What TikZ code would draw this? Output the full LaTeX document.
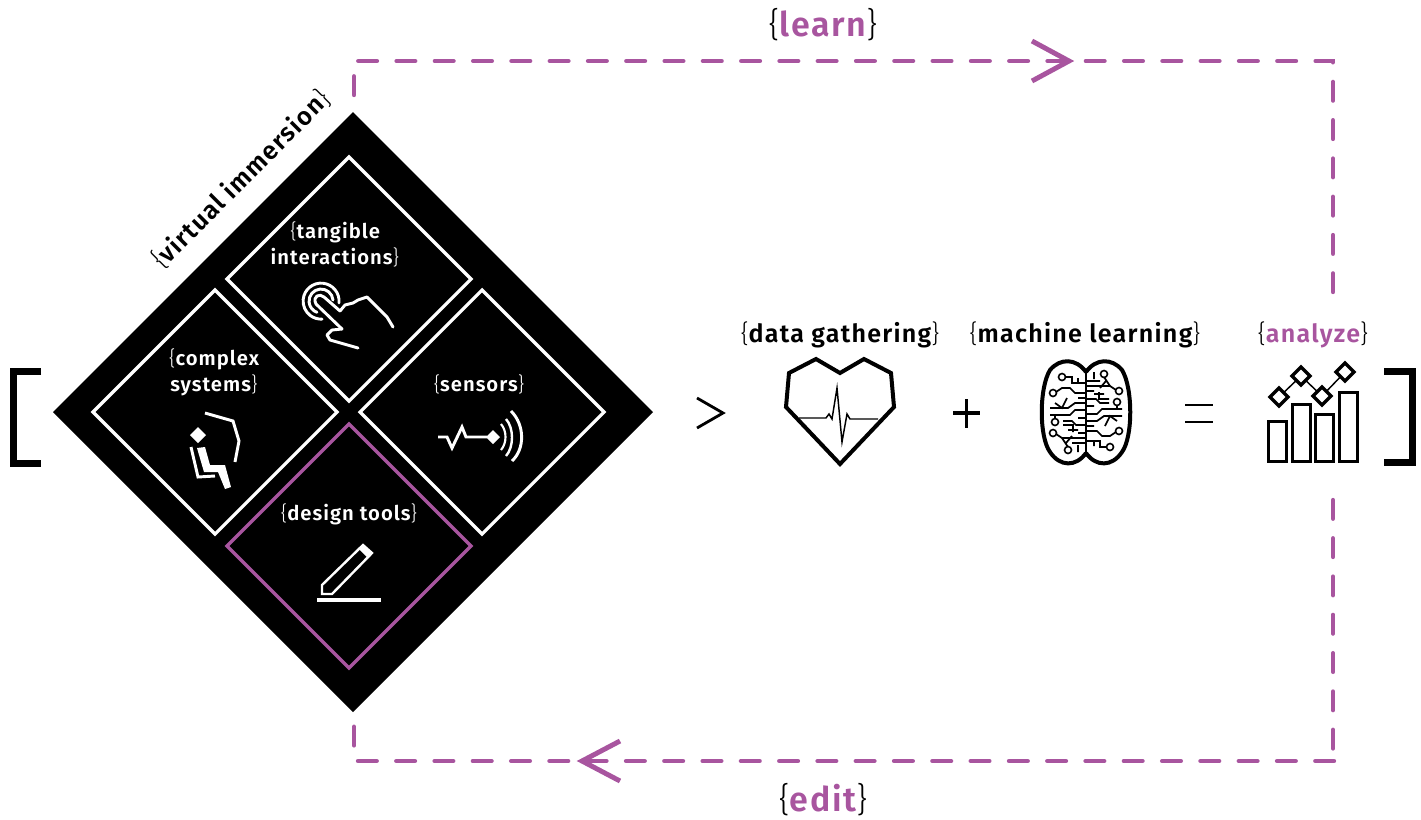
\documentclass[tikz,border=0pt]{standalone}
\usepackage{fontspec}
\setmainfont{Fira Sans}
\definecolor{plum}{HTML}{A8559F}
\newfontfamily\lightf{Fira Sans Light}
\newfontfamily\medf[LetterSpace=5]{Fira Sans SemiBold}
\newcommand{\ob}{{\lightf\{}}
\newcommand{\cb}{{\lightf\}}}
\newcommand{\md}[1]{{\medf #1}}
\newcommand{\brainhalf}{%
 \draw[line width=1.3pt]
 (1065,377) -- (1072,377) -- (1072,383) -- (1085,383) (1078,378) -- (1078,383)
 (1056,392) -- (1062,388) -- (1070,388) -- (1075,393) -- (1085,393)
 (1078,398) -- (1085,398)
 (1055,403) -- (1062,408) -- (1067,398) (1050,408) -- (1068,408) -- (1075,403) -- (1085,403)
 (1050,415) -- (1070,415) -- (1075,410) -- (1085,410)
 (1055,415) -- (1055,419)
 (1063,421) -- (1072,421) -- (1076,425) -- (1085,425)
 (1063,425) -- (1073,425) -- (1073,432) (1068,430) -- (1078,430)
 (1078,418) -- (1085,418) (1078,433) -- (1085,433)
 (1056,434) -- (1062,438) -- (1085,438) (1062,438) -- (1068,447)
 (1072,436) -- (1066,443)
 (1072,443) -- (1085,443) (1078,445) -- (1078,452);
 \draw[line width=1.2pt,fill=white]
 (1062,377) circle (3.5) (1053,393) circle (3.5) (1055,422) circle (3.5) (1053,433) circle (3.5) (1068,450) circle (3.5);
}
\begin{document}
\begin{tikzpicture}[x=0.75pt,y=-0.75pt,line join=miter,
 flow/.style={draw=plum,line width=3.3pt,line cap=round,dash pattern=on 14pt off 14.72pt},
 head/.style={draw=plum,line width=3.7pt},
 cell/.style={draw=white,line width=2.4pt},
 ic/.style={draw=white,line width=2.2pt},
 tw/.style={text=white,align=center,font=\fontsize{15.2}{19.5}\selectfont,inner sep=0pt},
 tb/.style={text=black,align=center,font=\fontsize{18.8}{20}\selectfont,inner sep=0pt},
 tc/.style={align=center,font=\fontsize{25.5}{26}\selectfont,inner sep=0pt}]
\useasboundingbox (0,0) rectangle (1421,819);
% main diamond
\fill[black] (353,112) -- (653,412) -- (353,712) -- (53,412) -- cycle;
\draw[cell] (349,157) -- (471,279) -- (349,401) -- (227,279) -- cycle;
\draw[cell] (215,290) -- (337,412) -- (215,534) -- (93,412) -- cycle;
\draw[cell] (482,290) -- (604,412) -- (482,534) -- (360,412) -- cycle;
\draw[plum,line width=2.6pt] (349,424) -- (471,546) -- (349,668) -- (227,546) -- cycle;
% flow loop
\coordinate (tl) at (354,95);
\coordinate (tlc) at (354,61);
\coordinate (trc) at (1333,61);
\coordinate (tr) at (1333,292);
\coordinate (br) at (1333,500);
\coordinate (brv) at (1333,752);
\coordinate (brc) at (1334,761);
\coordinate (blc) at (354,761);
\coordinate (bl) at (354,726);
\draw[flow] (tl) -- (tlc) -- (trc) -- (tr);
\draw[flow] (br) -- (brv);
\draw[flow] (brc) -- (blc) -- (bl);
\draw[head] (1032,41) -- (1069,61) -- (1032,81);
\draw[head] (620,741) -- (582,761) -- (620,781);
% titles
\node[tc] (learn) at (823,25) {\ob\textcolor{plum}{\md{learn}}\cb};
\node[tc] (edit) at (823,800) {\ob\textcolor{plum}{\md{edit}}\cb};
\node[rotate=45,font=\fontsize{19}{22}\selectfont,inner sep=0pt] (vi) at (241,179) {\ob\md{virtual immersion}\cb};
\node[tw] (t1) at (335,244) {\ob\md{tangible}\\\md{interactions}\cb};
\node[tw] (t2) at (214,372) {\ob\md{complex}\\\md{systems}\cb};
\node[tw] (t3) at (479,384) {\ob\md{sensors}\cb};
\node[tw] (t4) at (349,514) {\ob\md{design tools}\cb};
\node[tb] (t5) at (840,335) {\ob\md{data gathering}\cb};
\node[tb] (t6) at (1085,335) {\ob\md{machine learning}\cb};
\node[tb] (t7) at (1313,335) {\ob\textcolor{plum}{\md{analyze}}\cb};
% brackets
\draw[black,line width=5.25pt] (41,371) -- (13,371) -- (13,463) -- (41,463);
\draw[black,line width=5.25pt] (1384,371.5) -- (1412,371.5) -- (1412,462.5) -- (1384,462.5);
% operators
\draw[black,line width=2.1pt] (697,398) -- (723,413) -- (697,428);
\draw[black,line width=2.4pt] (953,413) -- (980,413) (966.5,399) -- (966.5,428);
\draw[black,line width=2.1pt] (1185,405) -- (1213,405) (1185,422) -- (1213,422);
% touch icon
\begin{scope}[ic,line cap=round,line join=round]
\draw (339,303) arc (6:-273:18);
\draw (333,300) arc (-5:-250:12);
\draw (342,329) -- (316,304) .. controls (312,296) and (320,293) .. (324,297) -- (340,311);
\draw (340,311) -- (345,305) -- (353,303) -- (358,300) -- (367,297) -- (378,308) -- (387,317) -- (393,327);
\draw (342,329) -- (332,330) -- (327,335) -- (330,340) -- (358,348);
\end{scope}
% seat icon
\fill[white] (198,427) -- (206,435) -- (198,443) -- (190,435) -- cycle;
\draw[ic] (205,413) -- (233,421) -- (239,441) -- (235,462);
\draw[ic] (191,447) -- (198,477) -- (215,476);
\fill[white] (197,448) -- (205,447) -- (210,465) -- (225,465) -- (231,487) -- (225,489) -- (218,472) -- (204,472) -- cycle;
% sensor icon
\draw[ic] (438,437) -- (447,437) -- (452,448) -- (462,427) -- (466,437) -- (487,437);
\fill[white] (493,430) -- (500,437) -- (493,444) -- (486,437) -- cycle;
\draw[ic,line width=1.6pt] (501,424) .. controls (507,431) and (507,443) .. (501,450);
\draw[ic,line width=1.8pt] (506,419) .. controls (514,428) and (514,447) .. (506,456);
\draw[ic] (511,411) .. controls (525,425) and (525,449) .. (512,461);
% pencil icon
\draw[ic,line width=1.8pt] (322,585) -- (322,594) -- (332,594) -- (372,553) -- (363,545) -- cycle;
\fill[white] (363,545) -- (372,553) -- (368,558) -- (359,549) -- cycle;
\draw[ic,line width=2.4pt] (317,600) -- (381,600);
% heart
\draw[black,line width=3pt] (840,373) -- (816,359) -- (789,373) -- (786,407) -- (840,464) -- (894,407) -- (891,373) -- (864,359) -- cycle;
\draw[black,line width=1.1pt] (799,418) -- (826,418) -- (829,414) -- (832,419) -- (837,388) -- (842,442) -- (847,414) -- (850,419) -- (878,419);
% brain
\begin{scope}[black]
\draw[line width=3pt] (1086,372) .. controls (1076,358) and (1060,358) .. (1050,370) .. controls (1039,388) and (1039,437) .. (1050,452) .. controls (1060,467) and (1076,467) .. (1086,453);
\draw[line width=3pt] (1086,372) .. controls (1096,358) and (1112,358) .. (1122,370) .. controls (1133,388) and (1133,437) .. (1122,452) .. controls (1112,467) and (1096,467) .. (1086,453);
\draw[line width=2pt] (1086,372) -- (1086,453);
\brainhalf
\begin{scope}[rotate around={180:(1086,412)}]
\brainhalf
\end{scope}
\end{scope}
% analyze
\begin{scope}[black,line width=2.6pt]
\draw (1268.5,421.5) rectangle (1286.5,461.5);
\draw (1292.5,404.5) rectangle (1310.5,461.5);
\draw (1315.5,414.5) rectangle (1333.5,461.5);
\draw (1339.5,392.5) rectangle (1357.5,461.5);
\draw[line width=1.1pt] (1279,397) -- (1301,376) -- (1322,396) -- (1345,372);
\draw[fill=white] (1279,388) -- (1288,397) -- (1279,406) -- (1270,397) -- cycle;
\draw[fill=white] (1301,367) -- (1310,376) -- (1301,385) -- (1292,376) -- cycle;
\draw[fill=white] (1322,387) -- (1331,396) -- (1322,405) -- (1313,396) -- cycle;
\draw[fill=white] (1345,363) -- (1354,372) -- (1345,381) -- (1336,372) -- cycle;
\end{scope}
\end{tikzpicture}
\end{document}
